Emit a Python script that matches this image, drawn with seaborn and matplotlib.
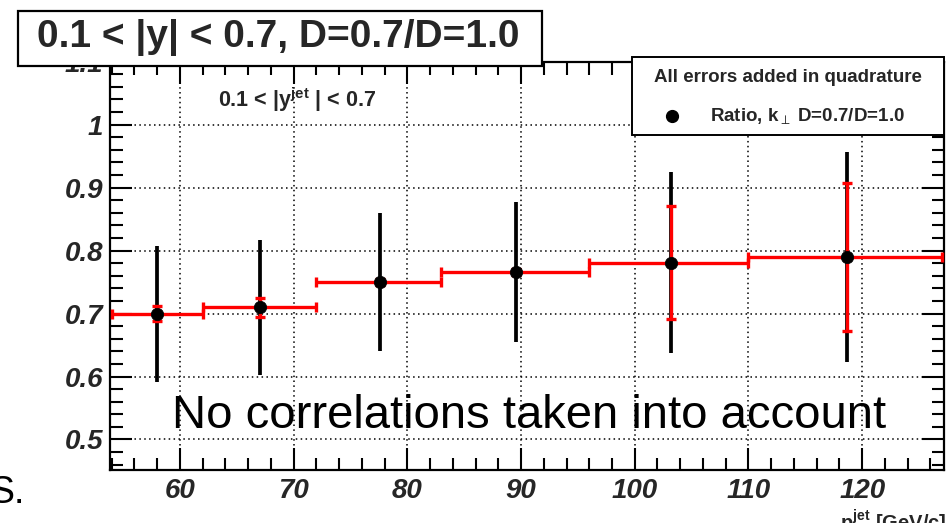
import numpy as np
import pandas as pd
import matplotlib
matplotlib.use("Agg")
import matplotlib.pyplot as plt
import seaborn as sns
from matplotlib.patches import Rectangle
from matplotlib.ticker import MultipleLocator, FixedLocator, FuncFormatter

# ---------------- data ----------------
pt_center = [58.0, 67.0, 77.6, 89.6, 103.2, 118.7]
bin_low = [54.0, 62.0, 72.0, 83.0, 96.0, 110.0]
bin_high = [62.0, 72.0, 83.0, 96.0, 110.0, 127.0]
ratio = [0.700, 0.710, 0.750, 0.766, 0.781, 0.790]
err_total = [0.108, 0.107, 0.110, 0.111, 0.144, 0.167]
err_red = [0.012, 0.015, 0.005, 0.005, 0.090, 0.118]
x_ticks = [60, 70, 80, 90, 100, 110, 120]
y_ticks = [0.5, 0.6, 0.7, 0.8, 0.9, 1.0, 1.1]

df = pd.DataFrame({"pt": pt_center, "ratio": ratio, "lo": bin_low, "hi": bin_high,
                   "etot": err_total, "ered": err_red})

sns.set_style("ticks")
plt.rcParams["font.family"] = ["Liberation Sans", "DejaVu Sans"]
plt.rcParams["mathtext.fontset"] = "custom"
plt.rcParams["mathtext.rm"] = "Liberation Sans:bold"
plt.rcParams["mathtext.it"] = "Liberation Sans:bold"
plt.rcParams["mathtext.bf"] = "Liberation Sans:bold"

W, H = 949, 523
fig = plt.figure(figsize=(W / 100, H / 100), dpi=100)
fig.patch.set_facecolor("white")

def fx(px):
    return px / W

def fy(py):
    return 1 - py / H

ax_l, ax_r, ax_t, ax_b = 110, 944, 61.7, 470
ax = fig.add_axes([fx(ax_l), fy(ax_b), fx(ax_r) - fx(ax_l), fy(ax_t) - fy(ax_b)])
ax.set_facecolor("white")

ax.set_xlim(53.85, 127.2)
ax.set_ylim(0.4515, 1.1)

# grid
ax.xaxis.set_major_locator(FixedLocator(x_ticks))
ax.yaxis.set_major_locator(FixedLocator(y_ticks))
ax.xaxis.set_minor_locator(MultipleLocator(2))
ax.yaxis.set_minor_locator(MultipleLocator(0.02))
ax.grid(True, which="major", color="black", linestyle=(0, (1, 2.2)), linewidth=1.1, zorder=0)
ax.yaxis.set_major_formatter(FuncFormatter(lambda v, p: f"{v:g}"))

for s in ax.spines.values():
    s.set_linewidth(1.6)
    s.set_color("black")

ax.tick_params(which="both", direction="in", top=True, right=True, color="black", width=1.5)
ax.tick_params(which="major", length=16)
ax.tick_params(which="minor", length=9)
ax.tick_params(axis="y", which="major", pad=5)
ax.tick_params(axis="x", which="major", pad=6)
for lab in ax.get_xticklabels() + ax.get_yticklabels():
    lab.set_fontsize(20)
    lab.set_fontweight("bold")
    lab.set_fontstyle("italic")

# black total errors
ax.errorbar(df["pt"], df["ratio"], yerr=df["etot"], fmt="none", ecolor="black",
            elinewidth=2.7, capsize=0, zorder=3)
# red bin widths + red vertical errors
xerr = [df["pt"] - df["lo"], df["hi"] - df["pt"]]
ax.errorbar(df["pt"], df["ratio"], xerr=xerr, yerr=df["ered"], fmt="none", ecolor="#ff0000",
            elinewidth=2.4, capsize=3.5, capthick=2.4, zorder=4)
sns.scatterplot(data=df, x="pt", y="ratio", ax=ax, color="black", s=80,
                edgecolor="black", linewidth=0.5, zorder=5, legend=False)
ax.set_xlabel("")
ax.set_ylabel("")

# inner label
fig.text(fx(218), fy(107), r"0.1 < |y$^{jet}$ | < 0.7", fontsize=15.5, fontweight="bold",
         ha="left", va="baseline")

# big overlay text
fig.text(fx(529), fy(428), "No correlations taken into account", fontsize=34,
         ha="center", va="baseline", color="black", zorder=10)
fig.text(fx(25), fy(503), "S.", fontsize=27, ha="right", va="baseline", color="black")

# x label (partially cut off)
fig.text(fx(840), fy(530), r"p$_{T}^{jet}$ [GeV/c]", fontsize=14.5, fontweight="bold",
         ha="left", va="baseline")

# title box
fig.patches.append(Rectangle((fx(18), fy(65.5)), fx(542) - fx(18), fy(11) - fy(65.5),
                             transform=fig.transFigure, facecolor="white", edgecolor="black",
                             linewidth=1.6, zorder=20))
fig.text(fx(278), fy(38), "0.1 < |y| < 0.7, D=0.7/D=1.0", fontsize=28, fontweight="bold",
         ha="center", va="center", zorder=21)

# legend box
fig.patches.append(Rectangle((fx(632), fy(135)), fx(944) - fx(632), fy(57) - fy(135),
                             transform=fig.transFigure, facecolor="white", edgecolor="black",
                             linewidth=1.4, zorder=20))
fig.text(fx(788), fy(77), "All errors added in quadrature", fontsize=13.5, fontweight="bold",
         ha="center", va="center", zorder=21)
fig.lines.append(plt.Line2D([fx(672)], [fy(116)], marker="o", markersize=8.5, color="black",
                            transform=fig.transFigure, zorder=21))
fig.text(fx(710), fy(116), r"Ratio, k$_{\perp}$ D=0.7/D=1.0", fontsize=13.5, fontweight="bold",
         ha="left", va="center", zorder=21)

fig.savefig("out.png", dpi=100)
